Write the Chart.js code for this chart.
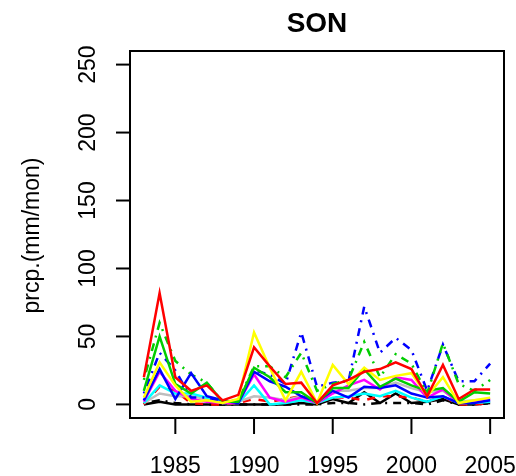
<!DOCTYPE html>
<html lang="en">
<head>
  <meta charset="UTF-8" />
  <title>SON</title>
  <script src="https://cdn.jsdelivr.net/npm/chart.js"></script>
  <style>
    html, body { margin: 0; padding: 0; background: #fff; }
    canvas { display: block; }
  </style>
</head>
<body>
<canvas id="son" width="516" height="476"></canvas>

<script>
  // years on the x axis
  const years = [1983,1984,1985,1986,1987,1988,1989,1990,1991,1992,1993,1994,
                 1995,1996,1997,1998,1999,2000,2001,2002,2003,2004,2005];
  const xTicks = [1985, 1990, 1995, 2000, 2005];
  const yTicks = [0, 50, 100, 150, 200, 250];

  // series values (mm/mon)
  const redSolid    = [20,82,20,10,14, 3, 7,42,28,15,16, 1,14,18,24,26,31,26, 6,29, 4,11,11];
  const greenDotDash= [18,60,32,22,16, 2, 3,28,28,20,38,10,15,18,46,20,37,30, 8,45,15,10,18];
  const blueDotDash = [ 8,38,25, 5, 5, 2, 3,25,22,15,53,13,16,17,72,38,49,40,10,44,17,17,30];
  const greenSolid  = [10,50,15, 8,16, 2, 2,27,20, 9, 9, 1,12,12,26,13,19,14,10,12, 2, 9, 8];
  const blueSolid   = [ 3,26, 4,23, 6, 3, 1,24,17,13, 6, 2,10, 5,13,12,14, 8, 5, 6, 1, 1, 3];
  const yellowSolid = [ 5,31,14, 2, 3, 1, 4,53,27, 3,24, 1,29,15,27,18,21,23, 6,20, 1, 3, 5];
  const magentaSolid= [ 2,24,10, 4, 2, 1, 1,22, 5, 2, 5, 1, 8,14,18,11,20,18, 5,11, 1, 2, 4];
  const cyanSolid   = [ 1,14, 8, 8, 5, 1, 1,14, 0, 1, 3, 1, 5, 6, 8, 6,10, 5, 2, 6, 1, 1, 2];
  const graySolid   = [ 1, 8, 6, 6, 4, 1, 2, 6, 5, 3, 6, 2,10,10,12,12,16,12, 9,10, 2, 3, 4];
  const blackSolid  = [ 0, 2, 0, 0, 0, 0, 0, 0, 0, 0, 1, 0, 4, 1, 9, 1, 8, 1, 2, 4, 0, 0, 1];
  const redDashed   = [ 0,13,10, 1, 0, 0, 1, 4, 2, 4, 6, 1, 5, 5, 3, 6, 6, 5, 2, 6, 0, 0, 1];
  const blackDotDash= [ 1, 3, 1, 0, 0, 0, 0, 0, 0, 0, 0, 0, 1, 1, 0, 1, 1, 1, 0, 3, 0, 0, 1];

  const DOTDASH = [2, 6, 8, 6];
  const DASHED = [8, 8];

  function series(values, color, dash) {
    return {
      data: values.map((v, i) => ({ x: years[i], y: v })),
      borderColor: color,
      borderWidth: 2.5,
      borderDash: dash || [],
      pointRadius: 0,
      tension: 0,
      fill: false
    };
  }

  const FONT = '"Liberation Sans", Arial, Helvetica, sans-serif';

  // R-style box, ticks, labels and title
  const rFrame = {
    id: 'rFrame',
    afterDraw(chart) {
      const ctx = chart.ctx;
      const a = chart.chartArea;
      const xs = chart.scales.x, ys = chart.scales.y;
      ctx.save();
      ctx.strokeStyle = '#000';
      ctx.lineWidth = 2;
      ctx.strokeRect(a.left, a.top, a.right - a.left, a.bottom - a.top);

      // x ticks
      ctx.fillStyle = '#000';
      ctx.font = '23px ' + FONT;
      ctx.textAlign = 'center';
      ctx.textBaseline = 'alphabetic';
      xTicks.forEach(t => {
        const px = xs.getPixelForValue(t);
        ctx.beginPath();
        ctx.moveTo(px, a.bottom);
        ctx.lineTo(px, a.bottom + 16);
        ctx.stroke();
        ctx.fillText(String(t), px, 473);
      });

      // y ticks, labels rotated like R's las=0
      yTicks.forEach(t => {
        const py = ys.getPixelForValue(t);
        ctx.beginPath();
        ctx.moveTo(a.left, py);
        ctx.lineTo(a.left - 14, py);
        ctx.stroke();
        ctx.save();
        ctx.translate(95, py);
        ctx.rotate(-Math.PI / 2);
        ctx.fillText(String(t), 0, 0);
        ctx.restore();
      });

      // y axis title
      ctx.save();
      ctx.translate(39, (a.top + a.bottom) / 2 + 1);
      ctx.rotate(-Math.PI / 2);
      ctx.fillText('prcp.(mm/mon)', 0, 0);
      ctx.restore();

      // main title
      ctx.font = 'bold 28px ' + FONT;
      ctx.fillText('SON', (a.left + a.right) / 2, 32);
      ctx.restore();
    }
  };

  new Chart(document.getElementById('son'), {
    type: 'line',
    data: {
      datasets: [
        series(redSolid, '#ff0000'),
        series(yellowSolid, '#ffff00'),
        series(greenSolid, '#00cd00'),
        series(blueSolid, '#0000ff'),
        series(greenDotDash, '#00cd00', DOTDASH),
        series(blueDotDash, '#0000ff', DOTDASH),
        series(magentaSolid, '#ff00ff'),
        series(cyanSolid, '#00ffff'),
        series(graySolid, '#bebebe'),
        series(redDashed, '#ff0000', DASHED),
        series(blackSolid, '#000000'),
        series(blackDotDash, '#000000', DOTDASH)
      ]
    },
    options: {
      responsive: false,
      animation: false,
      layout: { padding: { top: 51, right: 12, left: 0, bottom: 0 } },
      plugins: { legend: { display: false }, title: { display: false }, tooltip: { enabled: false } },
      scales: {
        x: {
          type: 'linear',
          min: 1982.12, max: 2005.88,
          grid: { display: false },
          border: { display: false },
          ticks: { display: false },
          afterFit(scale) { scale.height = 58; }
        },
        y: {
          min: -10, max: 260,
          grid: { display: false },
          border: { display: false },
          ticks: { display: false },
          afterFit(scale) { scale.width = 130; }
        }
      }
    },
    plugins: [rFrame]
  });
</script>
</body>
</html>
